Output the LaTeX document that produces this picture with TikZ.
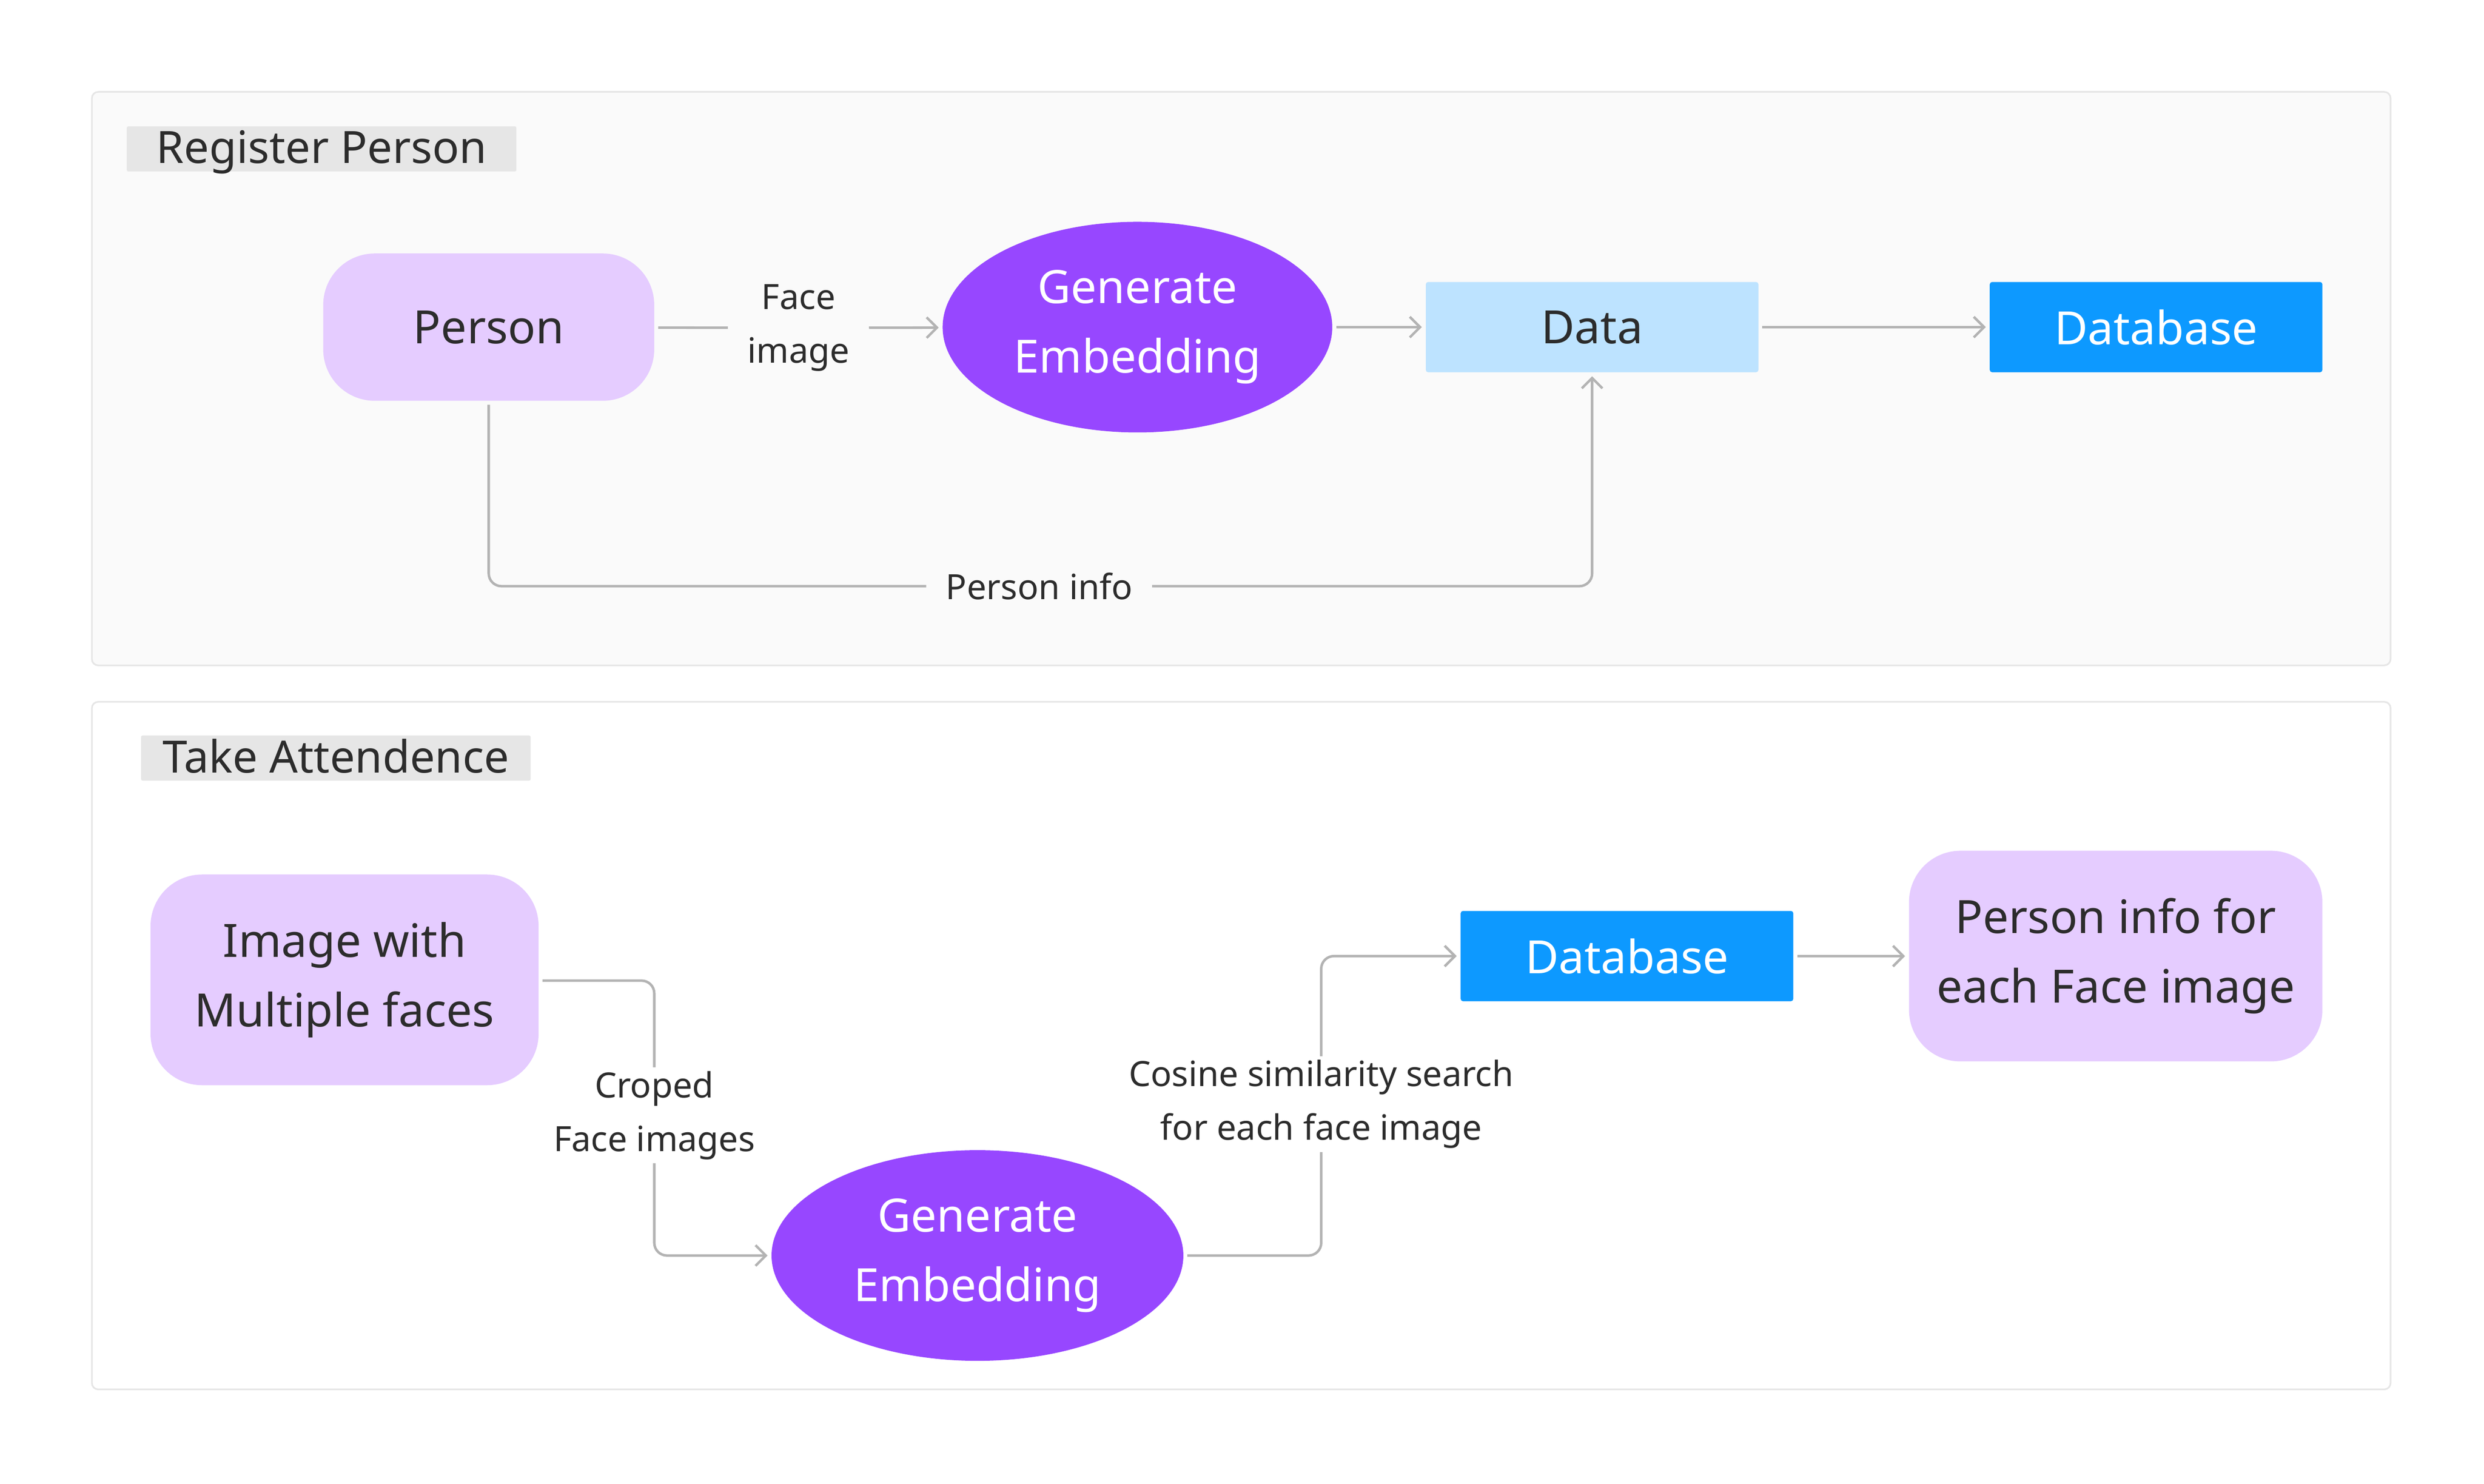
\documentclass[tikz,border=0pt]{standalone}
\usepackage{fontspec}
\setmainfont{Noto Sans}
\usetikzlibrary{shapes.geometric,arrows.meta}

\definecolor{lavender}{HTML}{E5CCFF}
\definecolor{violet}{HTML}{9747FF}
\definecolor{skyblue}{HTML}{BDE3FF}
\definecolor{dbblue}{HTML}{0D99FF}
\definecolor{inkdark}{HTML}{2C2C2C}
\definecolor{linegray}{HTML}{B3B3B3}
\definecolor{panelgray}{HTML}{E6E6E6}
\definecolor{panelfill}{HTML}{FAFAFA}

\begin{document}
\begin{tikzpicture}[x=0.02cm,y=-0.02cm,
    every node/.style={text=inkdark},
    nodefont/.style={font=\fontsize{16.5}{25}\selectfont, align=center},
    labelfont/.style={font=\fontsize{12.5}{19.3}\selectfont, align=center, inner xsep=0.24cm, inner ysep=0.04cm},
    softbox/.style={nodefont, fill=lavender, rounded corners=0.65cm, inner sep=0, outer sep=0.05cm},
    embed/.style={nodefont, ellipse, fill=violet, text=white, inner sep=0, outer sep=0.05cm},
    datanode/.style={nodefont, fill=skyblue, rounded corners=0.03cm, inner sep=0, outer sep=0.05cm, minimum width=4.2cm, minimum height=1.14cm},
    dbnode/.style={datanode, fill=dbblue, text=white},
    titlebox/.style={font=\fontsize{16}{19}\selectfont, fill=panelgray, rounded corners=0.02cm, inner sep=0, minimum width=4.92cm, minimum height=0.57cm, text depth=0.05cm},
    wire/.style={draw=linegray, line width=0.9pt, rounded corners=0.16cm},
    arrow/.style={wire, -{Straight Barb[length=0.13cm, width=0.26cm]}}]
        \useasboundingbox (0,0) rectangle (1568,936.5);
        \fill[white] (0,0) rectangle (1568,936.5);

        % panels
        \draw[panelgray, fill=panelfill, line width=0.6pt, rounded corners=0.08cm] (58,58) rectangle (1509,420);
        \draw[panelgray, fill=white, line width=0.6pt, rounded corners=0.08cm] (58,443) rectangle (1509,877);
        \node[titlebox] (regtitle) at (203,94) {Register Person};
        \node[titlebox] (atttitle) at (212,478.5) {Take Attendence};

        % register person
        \node[softbox, minimum width=4.18cm, minimum height=1.86cm] (person) at (308.5,206.5) {Person};
        \node[labelfont] (faceimg) at (504,207) {Face\\image};
        \node[embed, minimum width=4.92cm, minimum height=2.66cm] (gen1) at (718,206.5) {Generate\\Embedding};
        \node[datanode] (data) at (1005,206.5) {Data};
        \node[dbnode] (db1) at (1361,206.5) {Database};
        \node[labelfont] (pinfo) at (656,370) {Person info};

        \draw[wire] (person) -- (faceimg);
        \draw[arrow] (faceimg) -- (gen1);
        \draw[arrow] (gen1) -- (data);
        \draw[arrow] (data) -- (db1);
        \draw[wire] (person.south) |- (pinfo.west);
        \draw[arrow] (pinfo.east) -| (data.south);

        % take attendence
        \node[softbox, minimum width=4.9cm, minimum height=2.66cm] (imgfaces) at (217.5,618.5) {Image with\\Multiple faces};
        \node[labelfont] (croped) at (413,704) {Croped\\Face images};
        \node[embed, minimum width=5.2cm, minimum height=2.66cm] (gen2) at (617,792.5) {Generate\\Embedding};
        \node[labelfont] (cosine) at (834,697) {Cosine similarity search\\for each face image};
        \node[dbnode] (db2) at (1027,603.5) {Database};
        \node[softbox, minimum width=5.22cm, minimum height=2.66cm] (result) at (1335.5,603.5) {Person info for\\each Face image};

        \draw[wire] (imgfaces.east |- 0,619) -| (croped.north);
        \draw[arrow] (croped.south) |- (gen2.west);
        \draw[wire] (gen2.east) -| (cosine.south);
        \draw[arrow] (cosine.north) |- (db2.west);
        \draw[arrow] (db2) -- (result);
    \end{tikzpicture}
\end{document}
